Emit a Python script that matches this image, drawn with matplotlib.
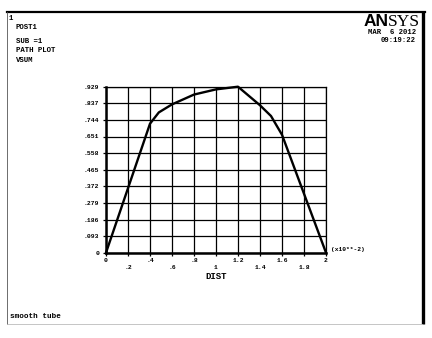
import matplotlib
matplotlib.use("Agg")
import matplotlib.pyplot as plt
from matplotlib.lines import Line2D

# ---- data ----
dist = [0.0, 0.4, 0.48, 0.6, 0.8, 1.0, 1.2, 1.4, 1.5, 1.6, 2.0]
vsum = [0.0, 0.722, 0.785, 0.830, 0.885, 0.914, 0.929, 0.825, 0.765, 0.660, 0.0]

xticks = [0.0, 0.2, 0.4, 0.6, 0.8, 1.0, 1.2, 1.4, 1.6, 1.8, 2.0]
xticklabels = ["0", ".2", ".4", ".6", ".8", "1", "1.2", "1.4", "1.6", "1.8", "2"]
yticks = [0.0, 0.0929, 0.1858, 0.2787, 0.3716, 0.4645, 0.5574, 0.6503, 0.7432, 0.8361, 0.929]
yticklabels = ["0", ".093", ".186", ".279", ".372", ".465", ".558", ".651", ".744", ".837", ".929"]

header_lines = ["POST1", "SUB =1", "PATH PLOT", "VSUM"]

W, H = 432, 338
fig = plt.figure(figsize=(W / 100, H / 100), dpi=100)
fig.patch.set_facecolor("white")

def fx(px):
    return px / W

def fy(py):
    return 1 - py / H

mono = "Liberation Mono"

ax = fig.add_axes([fx(106), fy(252.7), fx(326) - fx(106), fy(86.7) - fy(252.7)])
ax.plot(dist, vsum, color="black", lw=1.7, zorder=3, clip_on=False)
ax.set_xlim(0, 2.0)
ax.set_ylim(0, 0.929)
ax.set_xticks(xticks)
ax.set_yticks(yticks)
ax.set_xticklabels([lab if i % 2 == 0 else "\n" + lab for i, lab in enumerate(xticklabels)],
                   fontfamily=mono, fontweight="bold", fontsize=4.6, linespacing=1.6)
ax.set_yticklabels(yticklabels, fontfamily=mono, fontweight="bold", fontsize=4.6)
ax.grid(True, color="black", lw=0.9)
ax.tick_params(axis="both", direction="out", length=2.5, width=0.9, colors="black")
ax.tick_params(axis="x", pad=1.2)
ax.tick_params(axis="y", pad=2.5)
for s in ["top", "right"]:
    ax.spines[s].set_linewidth(0.9)
for s in ["left", "bottom"]:
    ax.spines[s].set_linewidth(1.8)
ax.set_xlabel("DIST", fontfamily=mono, fontweight="bold", fontsize=6.5, labelpad=1.5)

fig.text(fx(331), fy(249.5), "(x10**-2)", fontfamily=mono, fontweight="bold", fontsize=4.5,
         ha="left", va="center")

# frame lines
fig.add_artist(Line2D([fx(7), fx(425)], [fy(12), fy(12)], color="black", lw=1.6))
fig.add_artist(Line2D([fx(423), fx(423)], [fy(12), fy(324)], color="black", lw=2.4,
                      solid_capstyle="butt"))
fig.add_artist(Line2D([fx(7), fx(7)], [fy(12), fy(324)], color="#555555", lw=0.6))
fig.add_artist(Line2D([fx(7), fx(422)], [fy(324), fy(324)], color="#bbbbbb", lw=0.6))

# header texts
fig.text(fx(9), fy(19), "1", fontfamily=mono, fontweight="bold", fontsize=5.3, va="center")
for txt, yy in zip(header_lines, [27.7, 41.3, 51, 61]):
    fig.text(fx(16), fy(yy), txt, fontfamily=mono, fontweight="bold", fontsize=5.3, va="center")

fig.text(fx(364), fy(25.5), "AN", fontfamily="Liberation Sans", fontweight="bold", fontsize=12.5,
         va="baseline", ha="left")
fig.text(fx(420), fy(25.5), "SYS", fontfamily="Liberation Serif", fontsize=12.5,
         va="baseline", ha="right")
fig.text(fx(416), fy(33), "MAR  6 2012", fontfamily=mono, fontweight="bold", fontsize=5.2,
         va="center", ha="right")
fig.text(fx(416), fy(40.5), "09:19:22", fontfamily=mono, fontweight="bold", fontsize=5.2,
         va="center", ha="right")

fig.text(fx(10), fy(316.7), "smooth tube", fontfamily=mono, fontweight="bold", fontsize=5.5,
         va="center", ha="left")

fig.savefig("out.png", dpi=100, facecolor="white")
